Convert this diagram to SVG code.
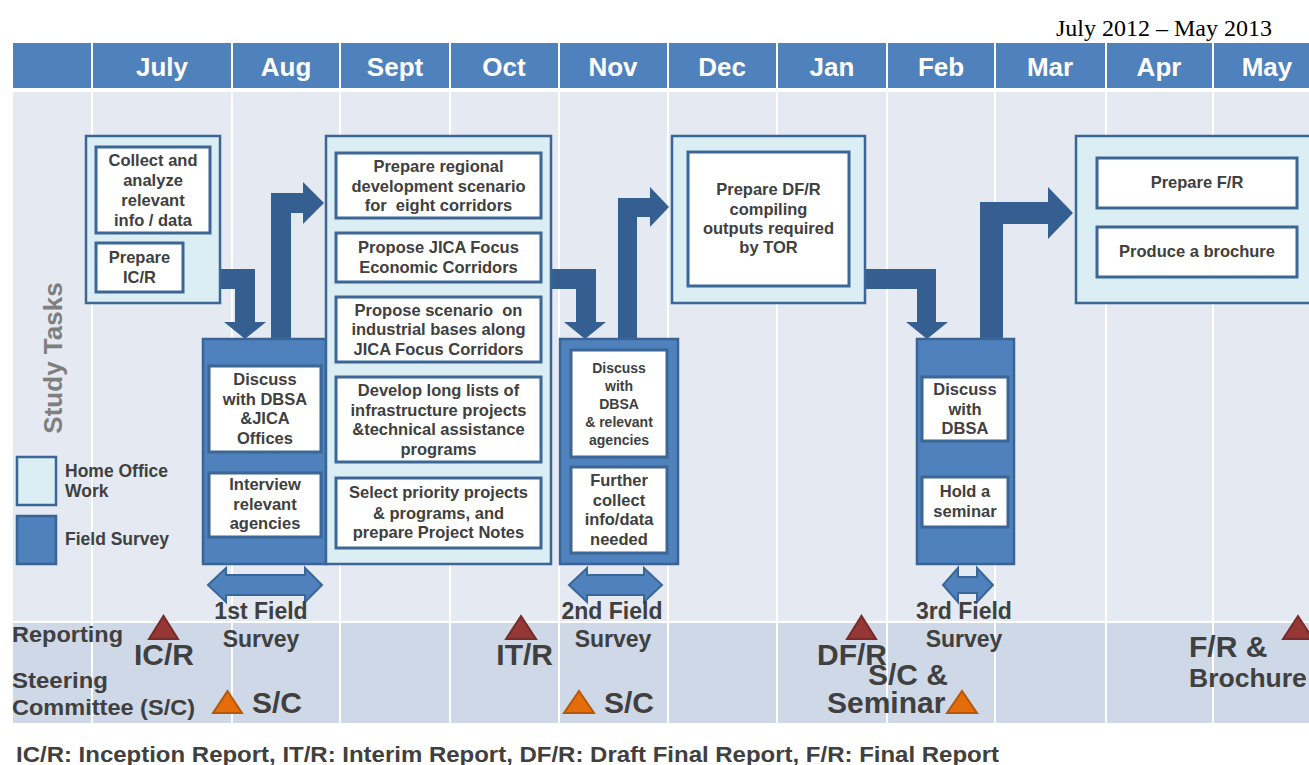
<svg xmlns="http://www.w3.org/2000/svg" width="1309" height="765" viewBox="0 0 1309 765">
  <defs>
    <style>
      .hdr { fill: #4F81BD; }
      .month { font-family: "Liberation Sans", Arial, sans-serif; font-weight: bold; font-size: 26px; fill: #FFFFFF; text-anchor: middle; }
      .grid { stroke: #FFFFFF; stroke-width: 2; }
      .home { fill: #DBEEF4; stroke: #3B6696; stroke-width: 2.5; }
      .field { fill: #4F81BD; stroke: #3A6494; stroke-width: 2.5; }
      .task { fill: #FFFFFF; stroke: #3B6696; stroke-width: 3; }
      .t { font-family: "Liberation Sans", Arial, sans-serif; font-weight: bold; font-size: 16.5px; fill: #404040; text-anchor: middle; white-space: pre; }
      .ts { font-size: 14px; }
      .flow { fill: #365F91; }
      .span { fill: #4F81BD; stroke: #3A6598; stroke-width: 2; }
      .lbl { font-family: "Liberation Sans", Arial, sans-serif; font-weight: bold; fill: #404040; }
      .big { font-size: 30px; }
      .mid { font-size: 23px; }
      .c { text-anchor: middle; }
      .rep { fill: #953735; stroke: #772C2A; stroke-width: 2; }
      .sc { fill: #E46C0A; stroke: #B65708; stroke-width: 2; }
    </style>
  </defs>

  <!-- period caption -->
  <text x="1056" y="36" font-family="Liberation Serif, 'Times New Roman', serif" font-size="22.4" fill="#000000" textLength="216" lengthAdjust="spacingAndGlyphs">July 2012 – May 2013</text>

  <!-- month header -->
  <g id="header">
    <rect class="hdr" x="13" y="43" width="1296" height="45"/>
    <g class="grid">
      <line x1="92" y1="43" x2="92" y2="88"/>
      <line x1="232" y1="43" x2="232" y2="88"/>
      <line x1="340" y1="43" x2="340" y2="88"/>
      <line x1="450" y1="43" x2="450" y2="88"/>
      <line x1="559" y1="43" x2="559" y2="88"/>
      <line x1="668" y1="43" x2="668" y2="88"/>
      <line x1="777" y1="43" x2="777" y2="88"/>
      <line x1="887" y1="43" x2="887" y2="88"/>
      <line x1="995" y1="43" x2="995" y2="88"/>
      <line x1="1106" y1="43" x2="1106" y2="88"/>
      <line x1="1213" y1="43" x2="1213" y2="88"/>
    </g>
    <text class="month" x="162" y="76">July</text>
    <text class="month" x="286" y="76">Aug</text>
    <text class="month" x="395" y="76">Sept</text>
    <text class="month" x="504" y="76">Oct</text>
    <text class="month" x="613" y="76">Nov</text>
    <text class="month" x="722" y="76">Dec</text>
    <text class="month" x="832" y="76">Jan</text>
    <text class="month" x="941" y="76">Feb</text>
    <text class="month" x="1050" y="76">Mar</text>
    <text class="month" x="1159" y="76">Apr</text>
    <text class="month" x="1267" y="76">May</text>
  </g>

  <!-- timeline body: tasks area and milestone band -->
  <g id="body">
    <rect x="13" y="92" width="1296" height="530" fill="#E4E9F2"/>
    <rect x="13" y="622" width="1296" height="101" fill="#CFD8E6"/>
    <line x1="13" y1="622" x2="1309" y2="622" stroke="#FFFFFF" stroke-width="2"/>
    <g class="grid">
      <line x1="92" y1="92" x2="92" y2="723"/>
      <line x1="232" y1="92" x2="232" y2="723"/>
      <line x1="340" y1="92" x2="340" y2="723"/>
      <line x1="450" y1="92" x2="450" y2="723"/>
      <line x1="559" y1="92" x2="559" y2="723"/>
      <line x1="668" y1="92" x2="668" y2="723"/>
      <line x1="777" y1="92" x2="777" y2="723"/>
      <line x1="887" y1="92" x2="887" y2="723"/>
      <line x1="995" y1="92" x2="995" y2="723"/>
      <line x1="1106" y1="92" x2="1106" y2="723"/>
      <line x1="1213" y1="92" x2="1213" y2="723"/>
    </g>
  </g>

  <!-- side title and legend -->
  <g id="legend">
    <text transform="translate(62,358) rotate(-90)" font-family="Liberation Sans, Arial, sans-serif" font-weight="bold" font-size="26" fill="#7F7F7F" text-anchor="middle">Study Tasks</text>
    <rect class="home" x="17" y="457" width="39" height="48" stroke-width="3"/>
    <rect class="field" x="17" y="516" width="39" height="48" stroke="#3B6696" stroke-width="3"/>
    <text class="lbl" x="65" y="477" font-size="17.5">Home Office</text>
    <text class="lbl" x="65" y="497" font-size="17.5">Work</text>
    <text class="lbl" x="65" y="545" font-size="17.5">Field Survey</text>
  </g>

  <!-- flow arrows between work blocks -->
  <g id="connectors">
    <path class="flow" d="M220,269 H255 V322 H266 L245,339 L224,322 H235 V289 H220 Z"/>
    <path class="flow" d="M271,339 V193 H303 V182 L324,203 L303,224 V213 H291 V339 Z"/>
    <path class="flow" d="M551,269 H596 V322 H606 L585,339 L564,322 H576 V289 H551 Z"/>
    <path class="flow" d="M618,339 V198 H650 V187 L669,207 L650,227 V217 H637 V339 Z"/>
    <path class="flow" d="M865,269 H936 V322 H948 L927,339 L906,322 H917 V289 H865 Z"/>
    <path class="flow" d="M980,339 V202 H1048 V187 L1073,213 L1048,239 V224 H1003 V339 Z"/>
    <!-- field survey spans -->
    <path class="span" d="M208,585 L226,568 V575 H305 V568 L322,585 L305,602 V595 H226 V602 Z"/>
    <path class="span" d="M569,585 L587,568 V575 H644 V568 L662,585 L644,602 V595 H587 V602 Z"/>
    <path class="span" d="M943,585 L958,568 V577 H977 V568 L993,585 L977,602 V593 H958 V602 Z"/>
  </g>

  <!-- July-Aug home office work -->
  <g id="home-july">
    <rect class="home" x="86" y="136" width="134" height="167"/>
    <rect class="task" x="96" y="147" width="114" height="86"/>
    <text class="t" x="153" y="166">Collect and</text>
    <text class="t" x="153" y="186">analyze</text>
    <text class="t" x="153" y="206">relevant</text>
    <text class="t" x="153" y="226">info / data</text>
    <rect class="task" x="96" y="243" width="87" height="49"/>
    <text class="t" x="139.5" y="263">Prepare</text>
    <text class="t" x="139.5" y="283">IC/R</text>
  </g>

  <!-- 1st field survey -->
  <g id="field-1">
    <rect class="field" x="203" y="339" width="123" height="225"/>
    <rect class="task" x="209" y="366" width="112" height="86"/>
    <text class="t" x="265" y="385">Discuss</text>
    <text class="t" x="265" y="405">with DBSA</text>
    <text class="t" x="265" y="424">&amp;JICA</text>
    <text class="t" x="265" y="444">Offices</text>
    <rect class="task" x="209" y="473" width="112" height="64"/>
    <text class="t" x="265" y="490">Interview</text>
    <text class="t" x="265" y="510">relevant</text>
    <text class="t" x="265" y="529">agencies</text>
  </g>

  <!-- Sept-Oct home office work -->
  <g id="home-sept">
    <rect class="home" x="326" y="136" width="225" height="428"/>
    <rect class="task" x="336" y="153" width="205" height="65"/>
    <text class="t" x="438.5" y="172">Prepare regional</text>
    <text class="t" x="438.5" y="192">development scenario</text>
    <text class="t" x="438.5" y="211" xml:space="preserve">for  eight corridors</text>
    <rect class="task" x="336" y="233" width="205" height="49"/>
    <text class="t" x="438.5" y="253">Propose JICA Focus</text>
    <text class="t" x="438.5" y="273">Economic Corridors</text>
    <rect class="task" x="336" y="297" width="205" height="65"/>
    <text class="t" x="438.5" y="316" xml:space="preserve">Propose scenario  on</text>
    <text class="t" x="438.5" y="335">industrial bases along</text>
    <text class="t" x="438.5" y="355">JICA Focus Corridors</text>
    <rect class="task" x="336" y="377" width="205" height="85"/>
    <text class="t" x="438.5" y="396">Develop long lists of</text>
    <text class="t" x="438.5" y="416">infrastructure projects</text>
    <text class="t" x="438.5" y="435">&amp;technical assistance</text>
    <text class="t" x="438.5" y="455">programs</text>
    <rect class="task" x="336" y="478" width="205" height="70"/>
    <text class="t" x="438.5" y="498">Select priority projects</text>
    <text class="t" x="438.5" y="519">&amp; programs, and</text>
    <text class="t" x="438.5" y="538">prepare Project Notes</text>
  </g>

  <!-- 2nd field survey -->
  <g id="field-2">
    <rect class="field" x="560" y="339" width="118" height="225"/>
    <rect class="task" x="571" y="350" width="96" height="107"/>
    <text class="t ts" x="619" y="373">Discuss</text>
    <text class="t ts" x="619" y="391">with</text>
    <text class="t ts" x="619" y="409">DBSA</text>
    <text class="t ts" x="619" y="427">&amp; relevant</text>
    <text class="t ts" x="619" y="445">agencies</text>
    <rect class="task" x="571" y="467" width="96" height="86"/>
    <text class="t" x="619" y="486">Further</text>
    <text class="t" x="619" y="506">collect</text>
    <text class="t" x="619" y="525">info/data</text>
    <text class="t" x="619" y="545">needed</text>
  </g>

  <!-- Dec-Jan home office work -->
  <g id="home-dec">
    <rect class="home" x="672" y="136" width="193" height="167"/>
    <rect class="task" x="688" y="152" width="161" height="134"/>
    <text class="t" x="768.5" y="195">Prepare DF/R</text>
    <text class="t" x="768.5" y="215">compiling</text>
    <text class="t" x="768.5" y="234">outputs required</text>
    <text class="t" x="768.5" y="253">by TOR</text>
  </g>

  <!-- 3rd field survey -->
  <g id="field-3">
    <rect class="field" x="917" y="339" width="97" height="225"/>
    <rect class="task" x="922" y="377" width="86" height="64"/>
    <text class="t" x="965" y="395">Discuss</text>
    <text class="t" x="965" y="415">with</text>
    <text class="t" x="965" y="434">DBSA</text>
    <rect class="task" x="922" y="477" width="86" height="50"/>
    <text class="t" x="965" y="497">Hold a</text>
    <text class="t" x="965" y="517">seminar</text>
  </g>

  <!-- Apr-May home office work -->
  <g id="home-apr">
    <rect class="home" x="1076" y="136" width="245" height="167"/>
    <rect class="task" x="1097" y="158" width="200" height="50"/>
    <text class="t" x="1197" y="188">Prepare F/R</text>
    <rect class="task" x="1097" y="227" width="200" height="50"/>
    <text class="t" x="1197" y="257">Produce a brochure</text>
  </g>

  <!-- milestone band -->
  <g id="milestones">
    <text class="lbl" x="12" y="642" font-size="22" textLength="111" lengthAdjust="spacingAndGlyphs">Reporting</text>
    <text class="lbl" x="12" y="688" font-size="22" textLength="96" lengthAdjust="spacingAndGlyphs">Steering</text>
    <text class="lbl" x="12" y="715" font-size="22" textLength="183" lengthAdjust="spacingAndGlyphs">Committee (S/C)</text>

    <text class="lbl mid c" x="261" y="619">1st Field</text>
    <text class="lbl mid c" x="261" y="647">Survey</text>
    <text class="lbl mid c" x="612" y="619">2nd Field</text>
    <text class="lbl mid c" x="613" y="647">Survey</text>
    <text class="lbl mid c" x="964" y="619">3rd Field</text>
    <text class="lbl mid c" x="964" y="647">Survey</text>

    <polygon class="rep" points="149,639 178,639 163.5,616"/>
    <polygon class="rep" points="506,639 536,639 521,616"/>
    <polygon class="rep" points="847,639 876,639 861.5,616"/>
    <polygon class="rep" points="1283,639 1313,639 1298,616"/>
    <text class="lbl big" x="134" y="665">IC/R</text>
    <text class="lbl big" x="553" y="665" text-anchor="end">IT/R</text>
    <text class="lbl big" x="817" y="665">DF/R</text>
    <text class="lbl big" x="1189" y="657">F/R &amp;</text>
    <text class="lbl" x="1189" y="687" font-size="26.5">Brochure</text>

    <polygon class="sc" points="213,713 242,713 227.5,691"/>
    <polygon class="sc" points="564,713 594,713 579,691"/>
    <polygon class="sc" points="947,713 977,713 962,691"/>
    <text class="lbl big" x="252" y="713">S/C</text>
    <text class="lbl big" x="604" y="713">S/C</text>
    <text class="lbl big" x="868" y="685">S/C &amp;</text>
    <text class="lbl big" x="827" y="713">Seminar</text>
  </g>

  <!-- abbreviations -->
  <text class="lbl" x="16" y="762" font-size="21.5" textLength="983" lengthAdjust="spacingAndGlyphs">IC/R: Inception Report, IT/R: Interim Report, DF/R: Draft Final Report, F/R: Final Report</text>
</svg>
